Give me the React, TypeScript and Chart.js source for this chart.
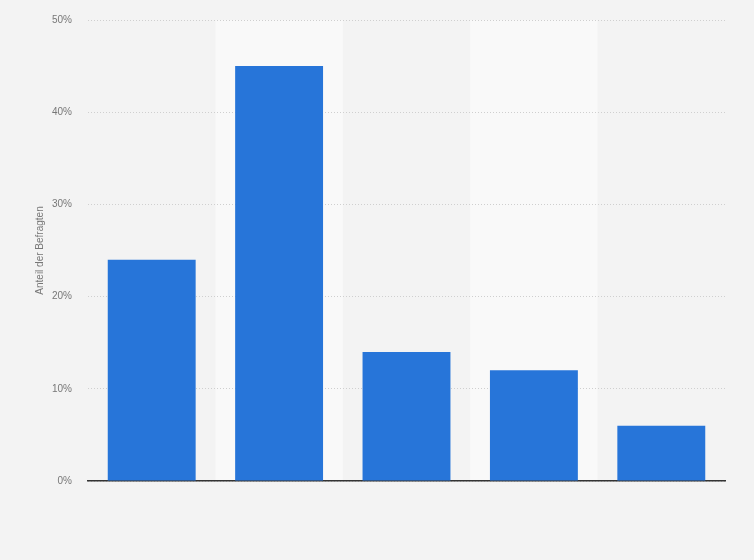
import React, { useEffect, useRef } from "react";
import { Chart, registerables } from "chart.js";

Chart.register(...registerables);

const categories = ["Kategorie 1", "Kategorie 2", "Kategorie 3", "Kategorie 4", "Kategorie 5"];
const shares = [24, 45, 14, 12, 6];
const yTicks = [0, 10, 20, 30, 40, 50];
const yTitle = "Anteil der Befragten";

const bandPlugin = {
  id: "bands",
  beforeDraw(chart: any) {
    const { ctx, chartArea, scales } = chart;
    ctx.save();
    ctx.fillStyle = "#f3f3f3";
    ctx.fillRect(0, 0, chart.width, chart.height);
    const x = scales.x;
    const w = (chartArea.right - chartArea.left) / categories.length;
    ctx.fillStyle = "#f9f9f9";
    categories.forEach((_, i) => {
      if (i % 2 === 1) {
        const cx = x.getPixelForValue(i);
        ctx.fillRect(cx - w / 2, chartArea.top, w, chartArea.bottom - chartArea.top);
      }
    });
    ctx.restore();
  },
};

export default function App() {
  const ref = useRef<HTMLCanvasElement>(null);
  useEffect(() => {
    document.body.style.margin = "0";
    const chart = new Chart(ref.current!, {
      type: "bar",
      data: {
        labels: categories,
        datasets: [
          {
            data: shares,
            backgroundColor: "#2775d9",
            barPercentage: 0.69,
            categoryPercentage: 1,
          },
        ],
      },
      options: {
        animation: false,
        responsive: false,
        layout: { padding: { top: 20, right: 29, left: 0, bottom: 0 } },
        plugins: { legend: { display: false }, tooltip: { enabled: false } },
        scales: {
          x: {
            ticks: { display: false },
            grid: { display: false, drawTicks: false },
            border: { display: true, color: "#333333", width: 1.5 },
            afterFit(scale: any) {
              scale.height = 79;
            },
          },
          y: {
            min: 0,
            max: 50,
            afterBuildTicks(scale: any) {
              scale.ticks = yTicks.map((v) => ({ value: v }));
            },
            ticks: {
              padding: 16,
              color: "#777777",
              font: { family: "Liberation Sans, Arial, sans-serif", size: 10 },
              callback: (v: any) => v + "%",
            },
            grid: {
              color: "#cfcfcf",
              drawTicks: false,
            },
            border: { display: false, dash: [1, 2] },
            title: {
              display: true,
              text: yTitle,
              color: "#777777",
              font: { family: "Liberation Sans, Arial, sans-serif", size: 10 },
              padding: { top: 34, bottom: 0 },
            },
            afterFit(scale: any) {
              scale.width = 88;
              scale.paddingTop = 0;
              scale.paddingBottom = 0;
            },
          },
        },
      },
      plugins: [bandPlugin],
    });
    return () => chart.destroy();
  }, []);
  return (
    <div style={{ position: "fixed", left: 0, top: 0, width: 754, height: 560 }}>
      <canvas ref={ref} width={754} height={560} style={{ width: 754, height: 560 }} />
    </div>
  );
}
